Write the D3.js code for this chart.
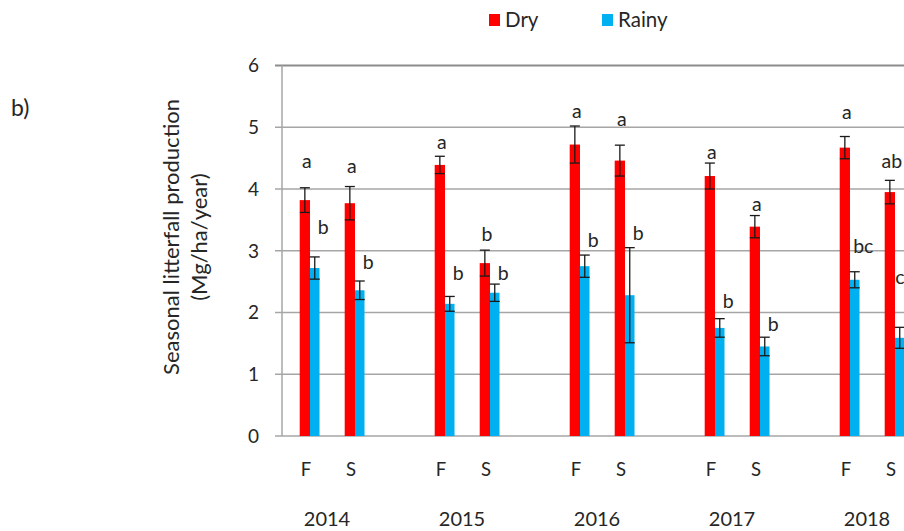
<!DOCTYPE html>
<html>
<head>
<meta charset="utf-8">
<script src="https://cdn.jsdelivr.net/npm/d3@7"></script>
<style>
  body { margin: 0; background: #fff; }
  svg { font-family: Lato, "Open Sans", sans-serif; }
</style>
</head>
<body>
<div id="chart"></div>
<script>
// data (Mg/ha/year), order: 2014 F, 2014 S, 2015 F, ...
var years = ["2014", "2015", "2016", "2017", "2018"];
var sites = ["F", "S"];
var dryValues = [3.82, 3.77, 4.39, 2.80, 4.72, 4.46, 4.21, 3.39, 4.67, 3.95];
var dryErrors = [0.20, 0.27, 0.14, 0.21, 0.30, 0.25, 0.21, 0.18, 0.18, 0.19];
var rainyValues = [2.72, 2.36, 2.14, 2.32, 2.75, 2.28, 1.75, 1.45, 2.53, 1.59];
var rainyErrors = [0.18, 0.15, 0.12, 0.14, 0.18, 0.77, 0.15, 0.15, 0.13, 0.17];
var dryLetters = ["a", "a", "a", "b", "a", "a", "a", "a", "a", "ab"];
var rainyLetters = ["b", "b", "b", "b", "b", "b", "b", "b", "bc", "c"];
// heights (in y units) where the significance letters sit
var dryLetterAt = [4.43, 4.36, 4.74, 3.26, 5.25, 5.12, 4.58, 3.74, 5.23, 4.44];
var rainyLetterAt = [3.37, 2.80, 2.62, 2.62, 3.16, 3.27, 2.17, 1.80, 3.06, 2.55];
var yTicks = [0, 1, 2, 3, 4, 5, 6];

var width = 904, height = 531;

var svg = d3.select("#chart")
    .append("svg")
    .attr("width", width)
    .attr("height", height);

// one slot per site plus an empty slot after each year
var slots = [];
years.forEach(function (yr) {
    sites.forEach(function (s) { slots.push(yr + "-" + s); });
    slots.push(yr + "-gap");
});

var rows = [];
years.forEach(function (yr, i) {
    sites.forEach(function (s, j) {
        var k = i * 2 + j;
        rows.push({
            key: yr + "-" + s, year: yr, site: s,
            dry: dryValues[k], dryErr: dryErrors[k], dryLetter: dryLetters[k], dryAt: dryLetterAt[k],
            rainy: rainyValues[k], rainyErr: rainyErrors[k], rainyLetter: rainyLetters[k], rainyAt: rainyLetterAt[k]
        });
    });
});

var x = d3.scaleBand()
    .domain(slots)
    .range([287.5, 287.5 + 45 * slots.length]);

var y = d3.scaleLinear()
    .domain([0, 6])
    .range([436, 65.5]);

var barW = 10.3;
var cx = function (key) { return x(key) + x.bandwidth() / 2; };

// gridlines
svg.append("g")
    .selectAll("line")
    .data(yTicks)
    .enter()
    .append("line")
    .attr("x1", 275)
    .attr("x2", 990)
    .attr("y1", function (d) { return y(d); })
    .attr("y2", function (d) { return y(d); })
    .attr("stroke", function (d) { return d == 6 ? "#8c8c8c" : "#a6a6a6"; })
    .attr("stroke-width", function (d) { return d == 6 ? 2 : 1.5; });

// y axis line
svg.append("line")
    .attr("x1", 282).attr("x2", 282)
    .attr("y1", y(6)).attr("y2", y(0))
    .attr("stroke", "#a6a6a6")
    .attr("stroke-width", 1.5);

// y tick labels
svg.append("g")
    .selectAll("text")
    .data(yTicks)
    .enter()
    .append("text")
    .attr("x", 259)
    .attr("y", function (d) { return y(d); })
    .attr("dy", "0.36em")
    .attr("text-anchor", "end")
    .style("font-size", "19px")
    .style("fill", "#262626")
    .text(function (d) { return d; });

// y title
var title = svg.append("text")
    .attr("transform", "translate(172,237) rotate(-90)")
    .attr("text-anchor", "middle")
    .style("font-size", "22px")
    .style("fill", "#262626");
title.append("tspan").attr("x", 0).attr("dy", 7).text("Seasonal litterfall production");
title.append("tspan").attr("x", 0).attr("dy", 28).text("(Mg/ha/year)");

// bars
svg.append("g")
    .selectAll("rect")
    .data(rows)
    .enter()
    .append("rect")
    .attr("x", function (d) { return cx(d.key) - barW; })
    .attr("y", function (d) { return y(d.dry); })
    .attr("width", barW)
    .attr("height", function (d) { return y(0) - y(d.dry); })
    .style("fill", "#ff0000");

svg.append("g")
    .selectAll("rect")
    .data(rows)
    .enter()
    .append("rect")
    .attr("x", function (d) { return cx(d.key); })
    .attr("y", function (d) { return y(d.rainy); })
    .attr("width", barW - 0.8)
    .attr("height", function (d) { return y(0) - y(d.rainy); })
    .style("fill", "#00b0f0");

// error bars
function errorBars(getX, getV, getE) {
    var g = svg.append("g")
        .attr("stroke", "#1a1a1a")
        .attr("stroke-width", 1.3);
    var sel = g.selectAll("g").data(rows).enter().append("g");
    sel.append("line")
        .attr("x1", getX).attr("x2", getX)
        .attr("y1", function (d) { return y(getV(d) + getE(d)); })
        .attr("y2", function (d) { return y(getV(d) - getE(d)); });
    [1, -1].forEach(function (sgn) {
        sel.append("line")
            .attr("x1", function (d) { return getX(d) - 5; })
            .attr("x2", function (d) { return getX(d) + 5; })
            .attr("y1", function (d) { return y(getV(d) + sgn * getE(d)); })
            .attr("y2", function (d) { return y(getV(d) + sgn * getE(d)); });
    });
}
errorBars(function (d) { return cx(d.key) - barW / 2; }, function (d) { return d.dry; }, function (d) { return d.dryErr; });
errorBars(function (d) { return cx(d.key) + barW / 2 - 0.4; }, function (d) { return d.rainy; }, function (d) { return d.rainyErr; });

// significance letters
svg.append("g")
    .selectAll("text")
    .data(rows)
    .enter()
    .append("text")
    .attr("x", function (d) { return cx(d.key) - barW / 2 + 2; })
    .attr("y", function (d) { return y(d.dryAt); })
    .attr("dy", "0.3em")
    .attr("text-anchor", "middle")
    .style("font-size", "19.5px")
    .style("fill", "#262626")
    .text(function (d) { return d.dryLetter; });

svg.append("g")
    .selectAll("text")
    .data(rows)
    .enter()
    .append("text")
    .attr("x", function (d) { return Math.min(cx(d.key) + barW + 3, 900); })
    .attr("y", function (d) { return y(d.rainyAt); })
    .attr("dy", "0.3em")
    .attr("text-anchor", "middle")
    .style("font-size", "19.5px")
    .style("fill", "#262626")
    .text(function (d) { return d.rainyLetter; });

// site labels
svg.append("g")
    .selectAll("text")
    .data(rows)
    .enter()
    .append("text")
    .attr("x", function (d) { return cx(d.key) - 4; })
    .attr("y", 476)
    .attr("text-anchor", "middle")
    .style("font-size", "18.5px")
    .style("fill", "#262626")
    .text(function (d) { return d.site; });

// year labels
svg.append("g")
    .selectAll("text")
    .data(years)
    .enter()
    .append("text")
    .attr("x", function (d) { return cx(d + "-F") + 17; })
    .attr("y", 526)
    .attr("text-anchor", "middle")
    .style("font-size", "20px")
    .style("fill", "#262626")
    .text(function (d) { return d; });

// legend
var keys = ["Dry", "Rainy"];
var color = d3.scaleOrdinal().domain(keys).range(["#ff0000", "#00b0f0"]);
var legendX = [489, 602];
svg.selectAll("mydots")
    .data(keys)
    .enter()
    .append("rect")
    .attr("x", function (d, i) { return legendX[i]; })
    .attr("y", 14)
    .attr("width", 11)
    .attr("height", 12)
    .style("fill", function (d) { return color(d); });
svg.selectAll("mylabels")
    .data(keys)
    .enter()
    .append("text")
    .attr("x", function (d, i) { return legendX[i] + 16; })
    .attr("y", 27)
    .style("font-size", "20.5px")
    .style("fill", "#262626")
    .text(function (d) { return d; });

// panel tag
svg.append("text")
    .attr("x", 11)
    .attr("y", 116)
    .style("font-size", "23px")
    .style("fill", "#262626")
    .text("b)");
</script>
</body>
</html>
